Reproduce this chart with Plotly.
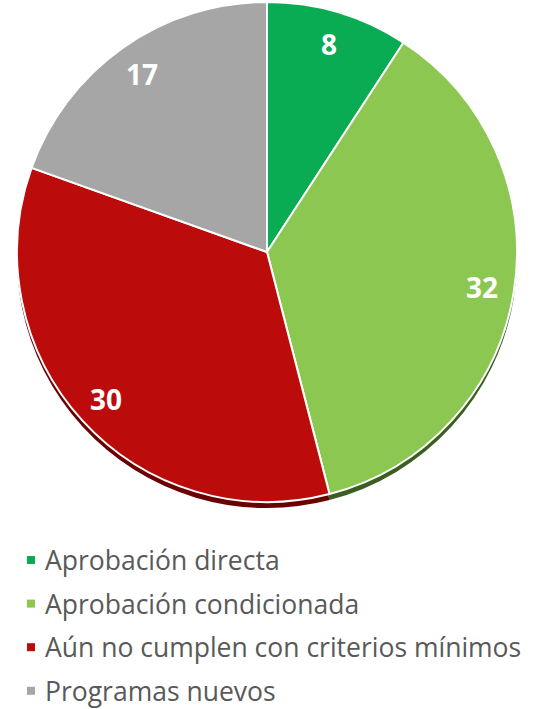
import math
import plotly.graph_objects as go

categories = ["Aprobación directa", "Aprobación condicionada",
              "Aún no cumplen con criterios mínimos", "Programas nuevos"]
values = [8, 32, 30, 17]
colors = ["#09AC53", "#8CC751", "#BC0B0B", "#A6A6A6"]
shadow_colors = ["#05602D", "#3B5E22", "#6B0000", "#5A5A5A"]

W, H = 535, 709
CX, CY, R = 267, 252, 250
SHADOW = 6

def dom(cy):
    return dict(x=[(CX - R) / W, (CX + R) / W],
                y=[1 - (cy + R) / H, 1 - (cy - R) / H])

fig = go.Figure()
fig.add_trace(go.Pie(labels=categories, values=values, sort=False,
                     direction="clockwise", rotation=0,
                     marker=dict(colors=shadow_colors, line=dict(width=0)),
                     textinfo="none", hoverinfo="skip", showlegend=False,
                     domain=dom(CY + SHADOW)))
fig.add_trace(go.Pie(labels=categories, values=values, sort=False,
                     direction="clockwise", rotation=0,
                     marker=dict(colors=colors, line=dict(color="white", width=2)),
                     textinfo="none", showlegend=False,
                     domain=dom(CY)))

# value labels placed at a fraction of the radius along each slice's mid-angle
total = sum(values)
cum = 0
for v in values:
    mid = (cum + v / 2) / total * 2 * math.pi
    cum += v
    r = 0.87 * R
    px = CX + r * math.sin(mid)
    py = CY - r * math.cos(mid)
    fig.add_annotation(x=px / W, y=1 - py / H, xref="paper", yref="paper",
                       text=f"<b>{v}</b>", showarrow=False,
                       font=dict(family="Open Sans", size=28, color="white"),
                       xanchor="center", yanchor="middle")

# legend
leg_y0, leg_dy = 560, 43.6
for i, (name, c) in enumerate(zip(categories, colors)):
    y = leg_y0 + i * leg_dy
    fig.add_shape(type="rect", xref="paper", yref="paper",
                  x0=27 / W, x1=35 / W, y0=1 - (y + 4) / H, y1=1 - (y - 4) / H,
                  fillcolor=c, line=dict(width=0))
    fig.add_annotation(x=43 / W, y=1 - y / H, xref="paper", yref="paper",
                       text=name, showarrow=False, xanchor="left", yanchor="middle",
                       font=dict(family="Open Sans", size=26.5, color="#595959"))

fig.update_layout(width=W, height=H, margin=dict(l=0, r=0, t=0, b=0),
                  paper_bgcolor="white", plot_bgcolor="white", showlegend=False)
fig.write_html("out.html", config={"displayModeBar": False},
               post_script="document.body.style.margin='0';document.body.style.overflow='hidden';")
